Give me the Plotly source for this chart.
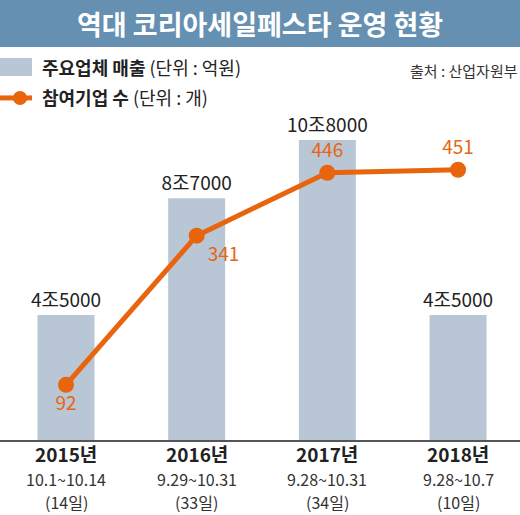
import plotly.graph_objects as go

# ===== data =====
years = ["2015년", "2016년", "2017년", "2018년"]
periods = ["10.1~10.14", "9.29~10.31", "9.28~10.31", "9.28~10.7"]
days = ["(14일)", "(33일)", "(34일)", "(10일)"]
sales = [45000, 87000, 108000, 45000]  # 억원
companies = [92, 341, 446, 451]  # 개

FONT = "Noto Sans CJK KR"
BAR_COLOR = "#b9c6d6"
ORANGE = "#e8650e"
TITLE_BG = "#6590b1"


def won_label(v):
    jo, rest = divmod(v, 10000)
    return f"{jo}조{rest:04d}"


def main():
    xs = list(range(len(years)))

    fig = go.Figure()

    fig.add_trace(go.Bar(
        x=xs, y=sales, width=0.436,
        marker=dict(color=BAR_COLOR, line=dict(width=0)),
        text=[won_label(v) for v in sales],
        textposition="outside",
        constraintext="none",
        textfont=dict(family=FONT, size=19, color="#222222"),
        cliponaxis=False,
        hoverinfo="skip",
    ))

    fig.add_trace(go.Scatter(
        x=xs, y=companies, yaxis="y2",
        mode="lines+markers+text",
        line=dict(color=ORANGE, width=5),
        marker=dict(color=ORANGE, size=16),
        text=[str(v) for v in companies],
        textposition=["bottom center", "bottom right", "top center", "top center"],
        textfont=dict(family=FONT, size=19, color=ORANGE),
        cliponaxis=False,
        hoverinfo="skip",
    ))

    # category labels under the axis
    for i in xs:
        fig.add_annotation(x=i, xref="x", y=-0.041, yref="paper", yanchor="middle",
                           text=f"<b>{years[i]}</b>", showarrow=False, borderpad=0,
                           font=dict(family=FONT, size=19, color="#222222"))
        fig.add_annotation(x=i, xref="x", y=-0.122, yref="paper", yanchor="middle",
                           text=periods[i], showarrow=False, borderpad=0,
                           font=dict(family=FONT, size=16, color="#333333"))
        fig.add_annotation(x=i, xref="x", y=-0.194, yref="paper", yanchor="middle",
                           text=days[i], showarrow=False, borderpad=0,
                           font=dict(family=FONT, size=16, color="#333333"))

    # title bar
    fig.add_shape(type="rect", xref="paper", yref="paper", x0=0, x1=1, y0=1.228, y1=1.38,
                  fillcolor=TITLE_BG, line=dict(width=0), layer="below")
    fig.add_annotation(x=0.5, xref="paper", y=1.303, yref="paper", yanchor="middle",
                       text="<b>역대 코리아세일페스타 운영 현황</b>", showarrow=False,
                       font=dict(family=FONT, size=27, color="white"))

    # legend
    fig.add_shape(type="rect", xref="paper", yref="paper", x0=0, x1=0.0615, y0=1.1375, y1=1.194,
                  fillcolor=BAR_COLOR, line=dict(width=0))
    fig.add_shape(type="line", xref="paper", yref="paper", x0=0, x1=0.0615, y0=1.069, y1=1.069,
                  line=dict(color=ORANGE, width=5))
    fig.add_shape(type="circle", xref="paper", yref="paper", x0=0.025, x1=0.052, y0=1.047, y1=1.091,
                  fillcolor=ORANGE, line=dict(width=0))
    fig.add_annotation(x=0.077, xref="paper", y=1.166, yref="paper", xanchor="left", yanchor="middle",
                       text="<b>주요업체 매출</b> (단위 : 억원)", showarrow=False,
                       font=dict(family=FONT, size=18, color="#222222"))
    fig.add_annotation(x=0.077, xref="paper", y=1.072, yref="paper", xanchor="left", yanchor="middle",
                       text="<b>참여기업 수</b> (단위 : 개)", showarrow=False,
                       font=dict(family=FONT, size=18, color="#222222"))
    fig.add_annotation(x=1.0, xref="paper", y=1.156, yref="paper", xanchor="right", yanchor="middle",
                       text="출처 : 산업자원부", showarrow=False,
                       font=dict(family=FONT, size=15, color="#333333"))

    fig.update_layout(
        width=520, height=515,
        margin=dict(l=0, r=0, t=120, b=75),
        paper_bgcolor="white", plot_bgcolor="white",
        showlegend=False,
        font=dict(family=FONT),
        xaxis=dict(range=[-0.505, 3.474], showticklabels=False, showgrid=False, zeroline=False,
                   showline=True, linecolor="#555555", linewidth=1.5, ticks=""),
        yaxis=dict(range=[0, 115200], visible=False, showgrid=False, zeroline=False),
        yaxis2=dict(range=[0, 534], overlaying="y", visible=False, showgrid=False, zeroline=False),
    )

    # drop the default page margin so the figure fills the window
    fig.write_html("out.html", config={"displayModeBar": False},
                   post_script="document.body.style.margin='0';")


if __name__ == "__main__":
    main()
